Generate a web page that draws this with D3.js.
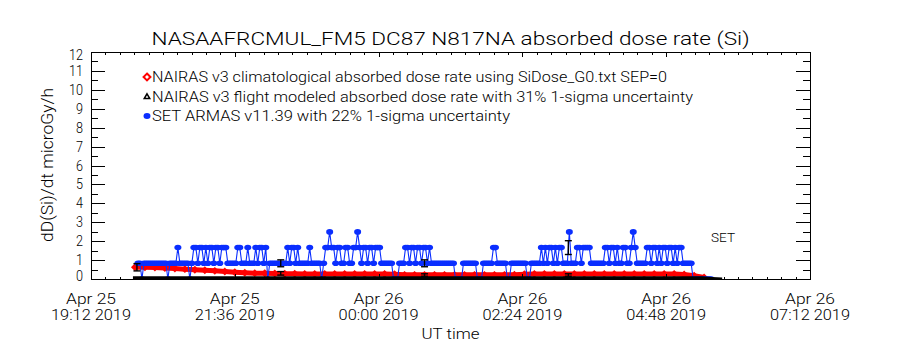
<!DOCTYPE html>
<html><head><meta charset="utf-8">
<script src="https://cdn.jsdelivr.net/npm/d3@7"></script>
<style>
body{margin:0;background:#fff;}
svg{display:block;}
text{font-family:Roboto,"Liberation Sans",sans-serif;font-weight:300;fill:#000;}
</style></head>
<body><svg id="c" width="900" height="350"></svg>
<script>
// ---------------- data ----------------
const titleText = "NASAAFRCMUL_FM5 DC87 N817NA absorbed dose rate (Si)";
const yLabel = "dD(Si)/dt microGy/h";
const xLabel = "UT time";
const legendLabels = [
  "NAIRAS v3 climatological absorbed dose rate using SiDose_G0.txt SEP=0",
  "NAIRAS v3 flight modeled absorbed dose rate with 31% 1-sigma uncertainty",
  "SET ARMAS v11.39 with 22% 1-sigma uncertainty"
];
const xTickTimes = ["2019-04-25T19:12Z","2019-04-25T21:36Z","2019-04-26T00:00Z","2019-04-26T02:24Z","2019-04-26T04:48Z","2019-04-26T07:12Z"];
const xTickLine1 = ["Apr 25","Apr 25","Apr 26","Apr 26","Apr 26","Apr 26"];
const xTickLine2 = ["19:12 2019","21:36 2019","00:00 2019","02:24 2019","04:48 2019","07:12 2019"];
const yTicks = [0,1,2,3,4,5,6,7,8,9,10,11,12];

// SET ARMAS dose rate, 2-minute samples starting 19:59 UT
const setStart = "2019-04-25T19:59Z";
const setStepMin = 2;
const setValues = [
 0.83,0.83,0,0.83,0.83,0.83,0.83,0.83,0.83,0.83,
 0.83,0.83,0.83,0.83,0.83,0,0.83,0.83,0.83,0.83,
 1.66,0.83,0.83,0.83,0.83,0.83,0,0.83,1.66,1.66,
 0.83,1.66,1.66,0.83,1.66,0.83,1.66,1.66,0.83,1.66,
 1.66,0.83,1.66,1.66,1.66,0.83,0.83,0.83,0.83,0.83,
 1.66,1.66,0.83,0.83,0.83,1.66,0.83,0.83,0.83,1.66,
 0.83,1.66,1.66,0.83,1.66,0,0.83,0.83,0.83,0.83,
 0.83,0.83,0.83,0.83,0.83,1.66,0.83,1.66,1.66,0.83,
 1.66,0.83,0.83,0.83,0.83,0.83,1.66,0.83,0.83,0.83,
 0.83,0.83,0,0.83,1.66,1.66,2.49,1.66,1.66,0.83,
 1.66,1.66,0.83,0.83,1.66,1.66,0.83,0.83,1.66,1.66,
 2.49,1.66,0.83,1.66,1.66,0.83,1.66,1.66,0.83,1.66,
 1.66,1.66,0.83,0.83,0.83,0.83,0.83,0.83,0,0,
 0,0.83,0.83,0.83,1.66,1.66,0.83,1.66,1.66,0.83,
 1.66,1.66,0.83,1.66,1.66,0.83,1.66,0.83,0.83,0.83,
 0.83,0.83,0.83,0.83,0.83,0.83,0.83,0.83,0.83,0,
 0,0,0,0.83,0.83,0.83,0.83,0.83,0.83,0.83,
 0,0,0,0.83,0.83,0.83,0.83,0.83,1.66,1.66,
 0.83,0.83,0.83,0.83,0.83,0,0,0.83,0.83,0.83,
 0.83,0.83,0.83,0.83,0.83,0,0,0.83,0.83,0.83,
 0.83,0.83,1.66,0.83,1.66,0.83,1.66,1.66,0.83,1.66,
 0.83,1.66,1.66,0.83,0.83,0.83,2.49,0.83,0.83,0.83,
 1.66,1.66,0.83,1.66,1.66,1.66,1.66,0.83,0.83,0.83,
 0.83,0.83,0.83,0.83,1.66,1.66,0.83,1.66,1.66,0.83,
 1.66,0.83,0.83,1.66,1.66,0.83,0.83,1.66,2.49,1.66,
 0.83,0.83,0.83,0.83,0.83,1.66,1.66,0.83,1.66,1.66,
 0.83,1.66,0.83,1.66,1.66,0.83,1.66,1.66,0.83,1.66,
 0.83,1.66,1.66,0.83,0.83,0.83,0.83,0.83,0,0,
 0,0,0,0,0,0,0,0
];

// NAIRAS climatological, 10-minute samples starting 19:56 UT
const climStart = "2019-04-25T19:56Z";
const climStepMin = 10;
const climValues = [
 0.62,0.62,0.61,0.58,0.55,0.52,0.49,0.46,0.43,0.40,
 0.36,0.33,0.31,0.30,0.29,0.28,0.28,0.27,0.27,0.27,
 0.27,0.27,0.26,0.26,0.26,0.26,0.25,0.22,0.22,0.22,
 0.22,0.22,0.22,0.22,0.22,0.22,0.22,0.22,0.23,0.25,
 0.27,0.27,0.27,0.27,0.27,0.27,0.27,0.27,0.27,0.27,
 0.27,0.27,0.27,0.27,0.27,0.24,0.17,0.08
];

// NAIRAS flight modeled, 10-minute samples starting 19:54 UT
const flightStart = "2019-04-25T19:54Z";
const flightStepMin = 10;
const flightValues = [
 0.07,0.07,0.07,0.07,0.07,0.07,0.07,0.07,0.07,0.07,
 0.07,0.07,0.07,0.07,0.07,0.07,0.07,0.07,0.07,0.07,
 0.07,0.07,0.07,0.07,0.07,0.07,0.07,0.07,0.07,0.07,
 0.07,0.07,0.07,0.07,0.07,0.07,0.07,0.07,0.07,0.07,
 0.07,0.07,0.07,0.07,0.07,0.07,0.07,0.07,0.07,0.07,
 0.07,0.07,0.07,0.07,0.07,0.07,0.07,0.06,0.03,0.0
];

// error bars
const errTimes = ["2019-04-25T19:58Z","2019-04-25T22:22Z","2019-04-26T00:46Z","2019-04-26T03:10Z"];
const errSetValues = [null,0.83,0.83,1.66];
const errSetSigma = 0.22;
const errModelValues = [0.62,0.30,0.21,0.21];
const errModelSigma = 0.31;

// ---------------- drawing ----------------
const svg = d3.select("#c");
const L=91, R=810, T=52, B=279;
const x = d3.scaleUtc().domain([new Date("2019-04-25T19:12Z"), new Date("2019-04-26T07:12Z")]).range([L,R]);
const y = d3.scaleLinear().domain([0,12]).range([B,T]);
const BLUE="#0a2eff", RED="#ff0000";

function series(start, stepMin, vals){
  const t0 = new Date(start).getTime();
  return vals.map((v,i)=>({t:new Date(t0+i*stepMin*60000), v}));
}
const setData = series(setStart,setStepMin,setValues);
const climData = series(climStart,climStepMin,climValues);
const flightData = series(flightStart,flightStepMin,flightValues);

svg.append("clipPath").attr("id","clip").append("rect").attr("x",L).attr("y",T).attr("width",R-L).attr("height",B-T);
const plot = svg.append("g").attr("clip-path","url(#clip)");
const line = d3.line().x(d=>x(d.t)).y(d=>y(d.v));

// red climatological
plot.append("path").datum(climData).attr("d",line).attr("fill","none").attr("stroke",RED).attr("stroke-width",5);
plot.selectAll(".rd").data(climData).join("path")
  .attr("d",d3.symbol(d3.symbolDiamond2,40)())
  .attr("transform",d=>`translate(${x(d.t)},${y(d.v)})`).attr("fill",RED);

// blue SET
plot.append("path").datum(setData).attr("d",line).attr("fill","none").attr("stroke",BLUE).attr("stroke-width",1.1);
plot.selectAll(".bd").data(setData).join("ellipse")
  .attr("cx",d=>x(d.t)).attr("cy",d=>y(d.v)).attr("rx",3.5).attr("ry",2.8).attr("fill",BLUE);

// black flight modeled
plot.append("path").datum(flightData).attr("d",line).attr("fill","none").attr("stroke","#000").attr("stroke-width",3);

// error bars
const eb = svg.append("g").attr("stroke","#000").attr("stroke-width",1.4).attr("fill","none");
errTimes.forEach((ts,i)=>{
  const cx = x(new Date(ts));
  [[errSetValues[i],errSetSigma],[errModelValues[i],errModelSigma]].forEach(([v,s])=>{
    if(v==null) return;
    const y1=y(v*(1-s)), y2=y(v*(1+s));
    eb.append("line").attr("x1",cx).attr("x2",cx).attr("y1",y1).attr("y2",y2);
    eb.append("line").attr("x1",cx-3.5).attr("x2",cx+3.5).attr("y1",y1).attr("y2",y1);
    eb.append("line").attr("x1",cx-3.5).attr("x2",cx+3.5).attr("y1",y2).attr("y2",y2);
  });
});

// frame & ticks
const ax = svg.append("g").attr("stroke","#000").attr("stroke-width",1).attr("shape-rendering","crispEdges");
ax.append("rect").attr("x",L).attr("y",T).attr("width",R-L).attr("height",B-T).attr("fill","none");
for(let k=0;k<=24;k++){
  const v=k/2, yy=Math.round(y(v))+0.5, len=(k%2===0)?14:7;
  ax.append("line").attr("x1",L).attr("x2",L+len).attr("y1",yy).attr("y2",yy);
  ax.append("line").attr("x1",R-len).attr("x2",R).attr("y1",yy).attr("y2",yy);
}
const xt = xTickTimes.map(s=>new Date(s).getTime());
for(let j=0;j<xt.length;j++){
  const n = j<xt.length-1?10:1;
  for(let k=0;k<n;k++){
    const t = xt[j] + (j<xt.length-1 ? k*(xt[j+1]-xt[j])/10 : 0);
    const xx=Math.round(x(new Date(t)))+0.5, len=k===0?5:2.5;
    ax.append("line").attr("x1",xx).attr("x2",xx).attr("y1",B).attr("y2",B-len);
    ax.append("line").attr("x1",xx).attr("x2",xx).attr("y1",T).attr("y2",T+len);
  }
}

// y tick labels
svg.selectAll(".yl").data(yTicks).join("text")
  .attr("x",83).attr("y",d=>Math.min(B-3.5,Math.max(T+2.5,y(d)))+5)
  .attr("text-anchor","end").attr("font-size",14)
  .attr("textLength",d=>String(d).length*7).attr("lengthAdjust","spacingAndGlyphs")
  .text(d=>d);

// x tick labels
xTickTimes.forEach((s,i)=>{
  const cx = x(new Date(s));
  svg.append("text").attr("x",cx).attr("y",304).attr("text-anchor","middle").attr("font-size",14)
    .attr("textLength",50).attr("lengthAdjust","spacingAndGlyphs").text(xTickLine1[i]);
  svg.append("text").attr("x",cx).attr("y",320).attr("text-anchor","middle").attr("font-size",14)
    .attr("textLength",80).attr("lengthAdjust","spacingAndGlyphs").text(xTickLine2[i]);
});

// titles
svg.append("text").attr("x",450.5).attr("y",45).attr("text-anchor","middle").attr("font-size",18)
  .attr("textLength",598).attr("lengthAdjust","spacingAndGlyphs").text(titleText);
svg.append("text").attr("x",450.5).attr("y",339).attr("text-anchor","middle").attr("font-size",15)
  .attr("textLength",58).attr("lengthAdjust","spacingAndGlyphs").text(xLabel);
svg.append("text").attr("transform","translate(53,165) rotate(-90)").attr("text-anchor","middle").attr("font-size",16)
  .attr("textLength",154).attr("lengthAdjust","spacingAndGlyphs").text(yLabel);
svg.append("text").attr("x",711).attr("y",242).attr("font-size",13)
  .attr("textLength",24).attr("lengthAdjust","spacingAndGlyphs").text("SET");

// legend
const legY=[77,97,116], legW=[515,541,358];
legendLabels.forEach((s,i)=>{
  svg.append("text").attr("x",152).attr("y",legY[i]+5).attr("font-size",14)
    .attr("textLength",legW[i]).attr("lengthAdjust","spacingAndGlyphs").text(s);
});
svg.append("path").attr("d",d3.symbol(d3.symbolDiamond2,30)()).attr("transform",`translate(147,${legY[0]})`)
  .attr("fill","#fff").attr("stroke",RED).attr("stroke-width",2);
svg.append("path").attr("d",d3.symbol(d3.symbolTriangle2,22)()).attr("transform",`translate(147,${legY[1]})`)
  .attr("fill","none").attr("stroke","#000").attr("stroke-width",1.5);
svg.append("ellipse").attr("cx",147).attr("cy",legY[2]).attr("rx",3.5).attr("ry",3).attr("fill",BLUE);
</script></body></html>
